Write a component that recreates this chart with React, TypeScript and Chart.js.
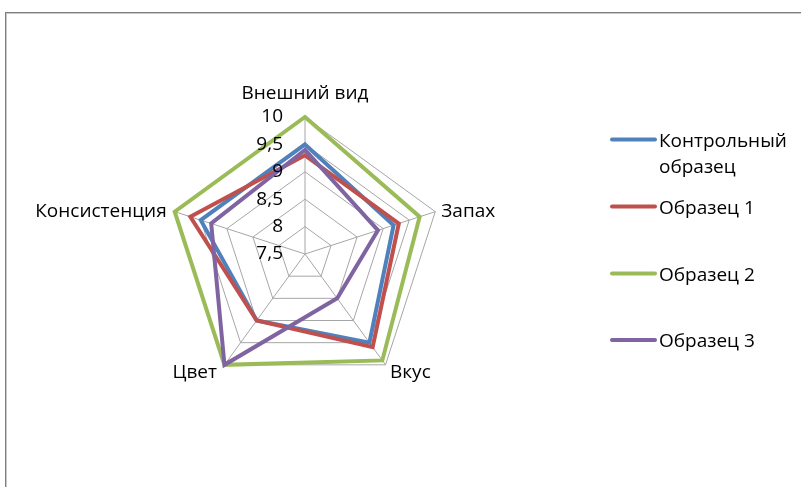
import React, { useEffect, useRef } from "react";
import { Chart, registerables } from "chart.js";

Chart.register(...registerables);

// ---- data ----
const categories = ["Внешний вид", "Запах", "Вкус", "Цвет", "Консистенция"];
const seriesNames = ["Контрольный образец", "Образец 1", "Образец 2", "Образец 3"];
const controlValues = [9.5, 9.2, 9.5, 9.0, 9.5];
const sample1Values = [9.3, 9.3, 9.6, 9.0, 9.7];
const sample2Values = [10, 9.7, 9.9, 10, 10];
const sample3Values = [9.4, 8.9, 8.5, 10, 9.3];
const seriesColors = ["#4F81BD", "#C0504D", "#9BBB59", "#8064A2"];
const legendTextLines = [["Контрольный", "образец"], ["Образец 1"], ["Образец 2"], ["Образец 3"]];
const tickValues = [7.5, 8, 8.5, 9, 9.5, 10];
const tickLabels = ["7,5", "8", "8,5", "9", "9,5", "10"];
const axisMin = 7.5;
const axisMax = 10;

const FONT = '19px "Open Sans"';

const labelsPlugin = {
  id: "customLabels",
  afterDraw(chart: any) {
    const ctx = chart.ctx;
    const scale = chart.scales.r;
    ctx.save();
    ctx.font = FONT;
    ctx.fillStyle = "#000000";

    // tick labels
    ctx.textAlign = "right";
    ctx.textBaseline = "middle";
    tickValues.forEach((v, i) => {
      const y = scale.yCenter - scale.getDistanceFromCenterForValue(v);
      ctx.fillText(tickLabels[i], scale.xCenter - 22, y);
    });

    // category labels
    ctx.textBaseline = "alphabetic";
    const offsets = [
      { align: "center", dx: 0, dy: -18.5 },
      { align: "left", dx: 6, dy: 5 },
      { align: "left", dx: 4.5, dy: 13.5 },
      { align: "right", dx: -7.5, dy: 13.5 },
      { align: "right", dx: -8, dy: 5 },
    ];
    categories.forEach((c, i) => {
      const p = scale.getPointPositionForValue(i, scale.max);
      const o = offsets[i];
      ctx.textAlign = o.align;
      ctx.fillText(c, p.x + o.dx, p.y + o.dy);
    });

    // legend
    const rowY = [139.5, 206.5, 273.5, 340];
    chart.data.datasets.forEach((ds: any, i: number) => {
      const y = rowY[i];
      ctx.strokeStyle = ds.borderColor;
      ctx.lineWidth = 4;
      ctx.lineCap = "round";
      ctx.beginPath();
      ctx.moveTo(612, y);
      ctx.lineTo(655, y);
      ctx.stroke();
      ctx.textAlign = "left";
      legendTextLines[i].forEach((t, k) => {
        ctx.fillText(t, 659, y + 7 + k * 26.5);
      });
    });
    ctx.restore();
  },
};

export default function App() {
  const ref = useRef<HTMLCanvasElement>(null);
  useEffect(() => {
    const values = [controlValues, sample1Values, sample2Values, sample3Values];
    const chart = new Chart(ref.current as HTMLCanvasElement, {
      type: "radar",
      data: {
        labels: categories,
        datasets: values.map((vals, i) => ({
          label: seriesNames[i],
          data: vals,
          borderColor: seriesColors[i],
          backgroundColor: "transparent",
          borderWidth: 4,
          fill: false,
          pointRadius: 0,
          pointHoverRadius: 0,
          tension: 0,
          order: 4 - i,
        })),
      },
      options: {
        responsive: false,
        devicePixelRatio: 1,
        animation: false,
        layout: { padding: { left: 168, top: 117, right: 359, bottom: 96 } },
        plugins: {
          legend: { display: false },
          tooltip: { enabled: false },
        },
        scales: {
          r: {
            min: axisMin,
            max: axisMax,
            beginAtZero: false,
            ticks: { display: false, stepSize: 0.5 },
            pointLabels: { display: false },
            grid: { color: "#a6a6a6", lineWidth: 1 },
            angleLines: { color: "#a6a6a6", lineWidth: 1 },
          },
        },
      } as any,
      plugins: [labelsPlugin as any],
    });
    return () => chart.destroy();
  }, []);

  return (
    <div
      style={{
        position: "fixed",
        left: 0,
        top: 0,
        width: 801,
        height: 487,
        background: "#ffffff",
        overflow: "hidden",
      }}
    >
      <div
        style={{
          position: "absolute",
          left: 5,
          top: 12,
          width: 830,
          height: 520,
          borderTop: "1px solid #7f7f7f",
          borderLeft: "1px solid #7f7f7f",
        }}
      >
        <div
          style={{
            position: "absolute",
            left: 0,
            top: 0,
            width: 830,
            height: 520,
            borderTop: "1px solid #c8c8c8",
            borderLeft: "1px solid #c8c8c8",
          }}
        />
      </div>
      <canvas
        ref={ref}
        width={801}
        height={487}
        style={{ position: "absolute", left: 0, top: 0, width: 801, height: 487 }}
      />
    </div>
  );
}
